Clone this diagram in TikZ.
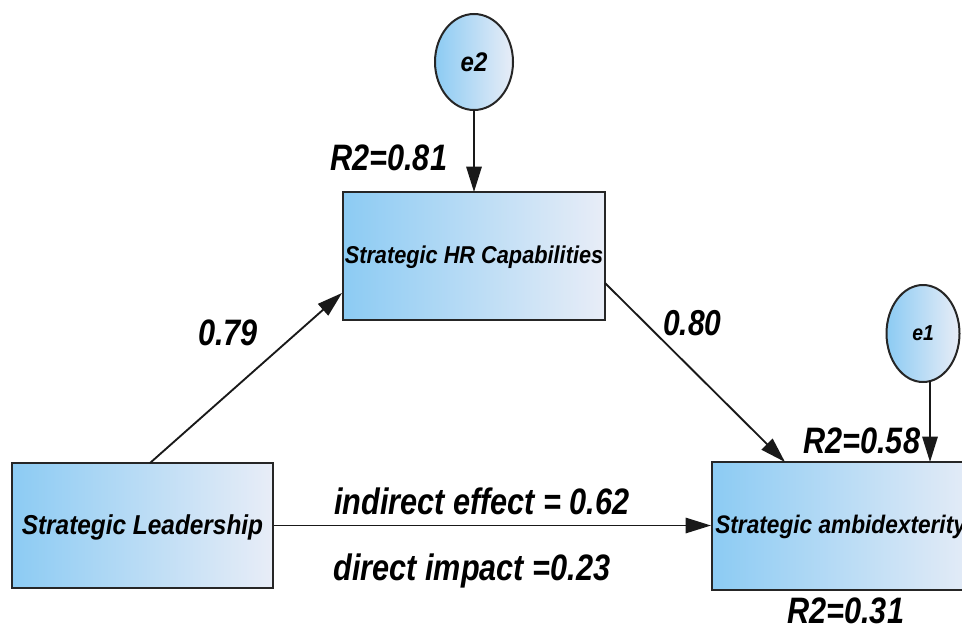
\documentclass[tikz,border=0pt]{standalone}
\usepackage{fontspec}
\usepackage{graphicx}
\setmainfont{Liberation Sans}
\usetikzlibrary{arrows.meta,shapes.geometric}

\definecolor{skyL}{HTML}{8CCBF3}
\definecolor{skyR}{HTML}{E8EDF7}

% tall narrow-looking lettering
\newcommand{\tallA}[1]{\scalebox{1}[1.2]{#1}}
\newcommand{\tallB}[1]{\scalebox{1}[1.12]{#1}}

\tikzset{
  varbox/.style={draw=black!85, line width=1.5pt, left color=skyL, right color=skyR,
    minimum width=#1, inner sep=0pt},
  errnode/.style={ellipse, draw=black!85, line width=1.5pt, left color=skyL, right color=skyR,
    inner sep=0pt},
  path/.style={draw=black!90, line width=1.4pt, -{Triangle[length=19pt,width=11.5pt]}},
  lbl/.style={font=\bfseries\itshape, inner sep=0pt},
  big/.style={lbl, font=\fontsize{23}{26}\selectfont\bfseries\itshape, anchor=base west},
}

\begin{document}
\begin{tikzpicture}[x=0.75pt, y=-0.75pt]
  \useasboundingbox (0,0) rectangle (962,628);

  % latent variables (rectangles)
  \node[varbox=261*0.75pt, minimum height=125*0.75pt] (lead) at (142.5,525.5) {};
  \node[lbl, font=\fontsize{18.3}{20}\selectfont\bfseries\itshape] (leadtxt) at (142.5,527) {\tallB{Strategic Leadership}};

  \node[varbox=262*0.75pt, minimum height=128*0.75pt] (hr) at (474,256) {};
  \node[lbl, font=\fontsize{16.3}{18}\selectfont\bfseries\itshape] (hrtxt) at (474,257) {\tallB{Strategic HR Capabilities}};

  \node[varbox=270*0.75pt, minimum height=128*0.75pt] (amb) at (847,526) {};
  \node[lbl, font=\fontsize{17}{19}\selectfont\bfseries\itshape, anchor=west] (ambtxt) at (715,527) {\tallB{Strategic ambidexterity}};

  % error terms
  \node[errnode, minimum width=78*0.75pt, minimum height=96*0.75pt] (e2) at (474,62) {};
  \node[lbl, font=\fontsize{18}{20}\selectfont\bfseries\itshape] (e2txt) at (474,62) {\tallB{e2}};
  \node[errnode, minimum width=73*0.75pt, minimum height=97*0.75pt] (e1) at (923,333.5) {};
  \node[lbl, font=\fontsize{14.5}{16}\selectfont\bfseries\itshape] (e1txt) at (923,333.5) {\tallB{e1}};

  % anchor points on the boxes
  \coordinate (e2foot) at (474,110);
  \coordinate (hrtop) at (474,192);
  \coordinate (e1foot) at (930,381);
  \coordinate (ambtopR) at (930,462);
  \coordinate (leadtop) at (150,463);
  \coordinate (hrleft) at (342,293);
  \coordinate (hrright) at (605,283);
  \coordinate (ambtopL) at (785,462);

  % structural paths
  \draw[path] (e2foot) -- (hrtop);
  \draw[path] (e1foot) -- (ambtopR);
  \draw[path] (leadtop) -- (hrleft);
  \draw[path] (hrright) -- (ambtopL);
  \draw[path] (lead.east) -- (amb.west |- lead.east);

  % coefficients
  \node[big] (b1) at (198,345) {\tallA{0.79}};
  \node[big, font=\fontsize{22.5}{26}\selectfont\bfseries\itshape] (b2) at (663,335) {\tallA{0.80}};
  \node[big] (ind) at (334,514) {\tallA{indirect effect = 0.62}};
  \node[big] (dir) at (333,580) {\tallA{direct impact =0.23}};

  % explained variance
  \node[big] (r81) at (330,170) {\tallA{R2=0.81}};
  \node[big] (r58) at (803,453) {\tallA{R2=0.58}};
  \node[big] (r31) at (787,623) {\tallA{R2=0.31}};
\end{tikzpicture}
\end{document}
